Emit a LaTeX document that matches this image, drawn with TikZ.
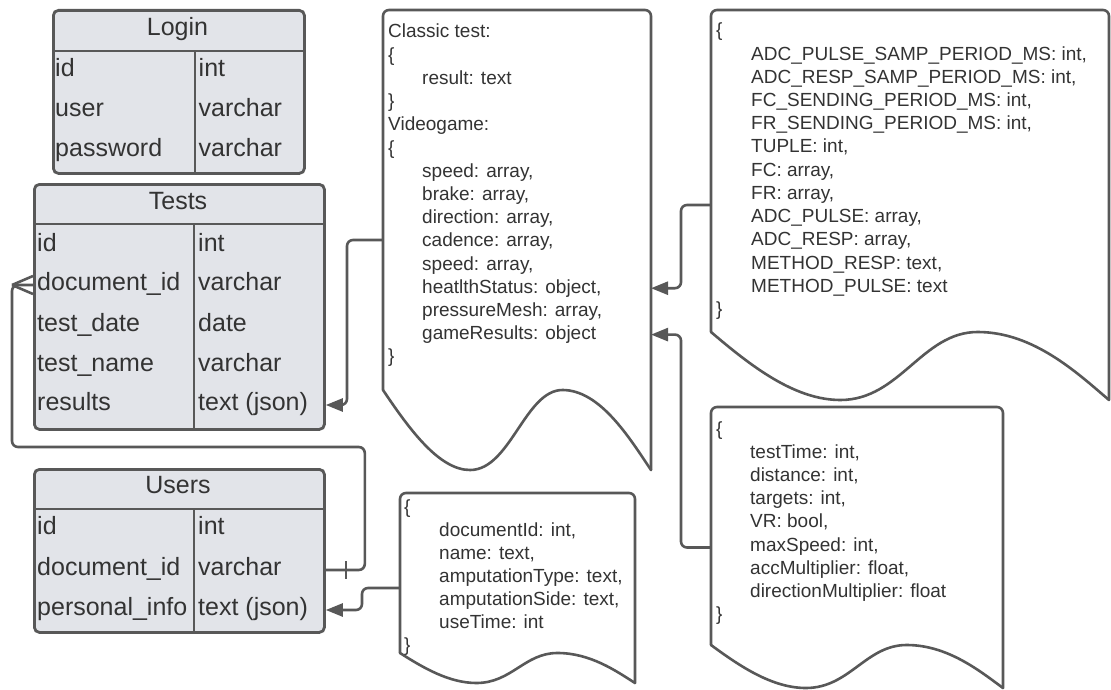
\documentclass[tikz,border=0pt]{standalone}
\usepackage{fontspec}
\setmainfont{Liberation Sans}
\usetikzlibrary{arrows.meta,calc}

\definecolor{edge}{RGB}{88,88,88}
\definecolor{cellfill}{RGB}{226,228,233}
\definecolor{ink}{RGB}{51,51,51}

% Outline of a "document" shape: straight top and sides, wavy bottom.
% #1 = node giving the extent, #2 = depth of the wave
\newcommand\docoutline[2]{%
  \draw[docline, rounded corners=6pt] let \p1=(#1.north west), \p2=(#1.south east) in
    ({\x1},{\y2+#2}) -- ({\x1},{\y1}) -- ({\x2},{\y1}) -- ({\x2},{\y2});
  \draw[docline] let \p1=(#1.north west), \p2=(#1.south east), \n1={\x2-\x1} in
    ({\x1},{\y2+#2})
    .. controls ({\x1+0.10*\n1},{\y2+0.5*#2}) and ({\x1+0.21*\n1},{\y2}) .. ({\x1+0.325*\n1},{\y2})
    .. controls ({\x1+0.475*\n1},{\y2}) and ({\x1+0.53*\n1},{\y2+#2}) .. ({\x1+0.67*\n1},{\y2+#2})
    .. controls ({\x1+0.81*\n1},{\y2+#2}) and ({\x1+0.92*\n1},{\y2+0.4*#2}) .. ({\x2},{\y2});
}

\begin{document}
\begin{tikzpicture}[x=1pt,y=-1pt,
  tblbox/.style={draw=edge, line width=2.8pt, fill=cellfill, rounded corners=5pt,
    inner sep=0pt, anchor=north west},
  tblline/.style={draw=edge, line width=2.8pt},
  tbltitle/.style={font=\fontsize{25}{30}\selectfont, text=ink, inner sep=0pt, anchor=base},
  cell/.style={font=\fontsize{25}{30}\selectfont, text=ink, inner sep=0pt,
    anchor=base west, text height=17pt, text depth=7pt},
  docarea/.style={inner sep=0pt, outer sep=0pt, anchor=north west},
  docline/.style={draw=edge, line width=2.6pt, line join=round, line cap=round},
  jline/.style={font=\fontsize{19}{23}\selectfont, text=ink, inner sep=0pt,
    anchor=base west, text height=14pt, text depth=4pt},
  conn/.style={draw=edge, line width=2.6pt, rounded corners=6pt, line join=round},
  tip/.style={-{Triangle[length=17pt,width=13pt]}},
]
\fill[white] (0,0) rectangle (1111,690);
\useasboundingbox (0,0) rectangle (1111,690);

% ---------- Login table ----------
\node[tblbox, minimum width=251pt, minimum height=163pt] (login) at (52,9) {};
\draw[tblline] (52,51) -- (303,51);
\draw[tblline] (195,51) -- (195,172);
\node[tbltitle] (login-title) at (177.5,36) {Login};
\node[cell] (login-1) at (55,77) {id};
\node[cell] (login-1t) at (198.5,77) {int};
\node[cell] (login-2) at (55,117) {user};
\node[cell] (login-2t) at (198.5,117) {varchar};
\node[cell] (login-3) at (55,157) {password};
\node[cell] (login-3t) at (198.5,157) {varchar};

% ---------- Tests table ----------
\node[tblbox, minimum width=290pt, minimum height=245pt] (tests) at (33,183) {};
\draw[tblline] (33,224) -- (323,224);
\draw[tblline] (194,224) -- (194,428);
\node[tbltitle] (tests-title) at (178,209) {Tests};
\node[cell] (tests-1) at (37,251) {id};
\node[cell] (tests-1t) at (198,251) {int};
\node[cell] (tests-2) at (37,290) {document\_id};
\node[cell] (tests-2t) at (198,290) {varchar};
\node[cell] (tests-3) at (37,331) {test\_date};
\node[cell] (tests-3t) at (198,331) {date};
\node[cell] (tests-4) at (37,371) {test\_name};
\node[cell] (tests-4t) at (198,371) {varchar};
\node[cell] (tests-5) at (37,410) {results};
\node[cell] (tests-5t) at (198,410) {text (json)};

% ---------- Users table ----------
\node[tblbox, minimum width=290pt, minimum height=163pt] (users) at (33,468) {};
\draw[tblline] (33,509) -- (323,509);
\draw[tblline] (194,509) -- (194,631);
\node[tbltitle] (users-title) at (178,493) {Users};
\node[cell] (users-1) at (37,534) {id};
\node[cell] (users-1t) at (198,534) {int};
\node[cell] (users-2) at (37,575) {document\_id};
\node[cell] (users-2t) at (198,575) {varchar};
\node[cell] (users-3) at (37,615) {personal\_info};
\node[cell] (users-3t) at (198,615) {text (json)};

% ---------- results document ----------
\node[docarea, minimum width=268pt, minimum height=460pt] (classic) at (383,10) {};
\docoutline{classic}{80pt}
\foreach \ind/\txt [count=\i from 0] in {0/{Classic test:}, 0/\{, 1/{result: text}, 0/\},
    0/{Videogame:}, 0/\{, 1/{speed: array,}, 1/{brake: array,}, 1/{direction: array,},
    1/{cadence: array,}, 1/{speed: array,}, 1/{heatlthStatus: object,},
    1/{pressureMesh: array,}, 1/{gameResults: object}, 0/\}}
  \node[jline] (classic-\i) at ({388+34*\ind},{38+23.2*\i}) {\txt};

% ---------- sensor document ----------
\node[docarea, minimum width=398pt, minimum height=390pt] (adc) at (711,10) {};
\docoutline{adc}{68pt}
\foreach \ind/\txt [count=\i from 0] in {0/\{,
    1/{ADC\_PULSE\_SAMP\_PERIOD\_MS: int,}, 1/{ADC\_RESP\_SAMP\_PERIOD\_MS: int,},
    1/{FC\_SENDING\_PERIOD\_MS: int,}, 1/{FR\_SENDING\_PERIOD\_MS: int,},
    1/{TUPLE: int,}, 1/{FC: array,}, 1/{FR: array,}, 1/{ADC\_PULSE: array,},
    1/{ADC\_RESP: array,}, 1/{METHOD\_RESP: text,}, 1/{METHOD\_PULSE: text}, 0/\}}
  \node[jline] (adc-\i) at ({716+35*\ind},{37+23.2*\i}) {\txt};

% ---------- personal info document ----------
\node[docarea, minimum width=235pt, minimum height=190pt] (udoc) at (400,493) {};
\docoutline{udoc}{30pt}
\foreach \ind/\txt [count=\i from 0] in {0/\{, 1/{documentId: int,}, 1/{name: text,},
    1/{amputationType: text,}, 1/{amputationSide: text,}, 1/{useTime: int}, 0/\}}
  \node[jline] (udoc-\i) at ({404+35*\ind},{513+23.1*\i}) {\txt};

% ---------- game results document ----------
\node[docarea, minimum width=292pt, minimum height=281pt] (vg) at (711,407) {};
\docoutline{vg}{43pt}
\foreach \ind/\txt [count=\i from 0] in {0/\{, 1/{testTime: int,}, 1/{distance: int,},
    1/{targets: int,}, 1/{VR: bool,}, 1/{maxSpeed: int,}, 1/{accMultiplier: float,},
    1/{directionMultiplier: float}, 0/\}}
  \node[jline] (vg-\i) at ({716+34*\ind},{435+23.2*\i}) {\txt};

% ---------- connectors ----------
\draw[conn, tip] (classic.west) -- ++(-36,0) |- (tests.east |- tests-5t);
\draw[conn, tip] (adc.west) -- ++(-30,0) |- (classic.east |- classic-11);
\draw[conn, tip] (vg.west) -- ++(-30,0) |- (classic.east |- classic-13);
\draw[conn, tip] (udoc.west) -- ++(-38,0) |- (users.east |- users-3t);

% Users.document_id (one) to Tests.document_id (many)
\coordinate (crow) at ([xshift=-21pt]tests.west |- tests-2);
\draw[conn] (users.east |- users-2t) -- ++(39,0) -- ++(0,-123) -| (crow) -- (tests.west |- tests-2);
\draw[conn, rounded corners=0pt] (crow) -- ([yshift=9pt]tests.west |- tests-2);
\draw[conn, rounded corners=0pt] (crow) -- ([yshift=-9pt]tests.west |- tests-2);
\draw[conn, rounded corners=0pt] ([xshift=20pt]users.east |- users-2t) ++(0,-9) -- ++(0,18);
\end{tikzpicture}
\end{document}
